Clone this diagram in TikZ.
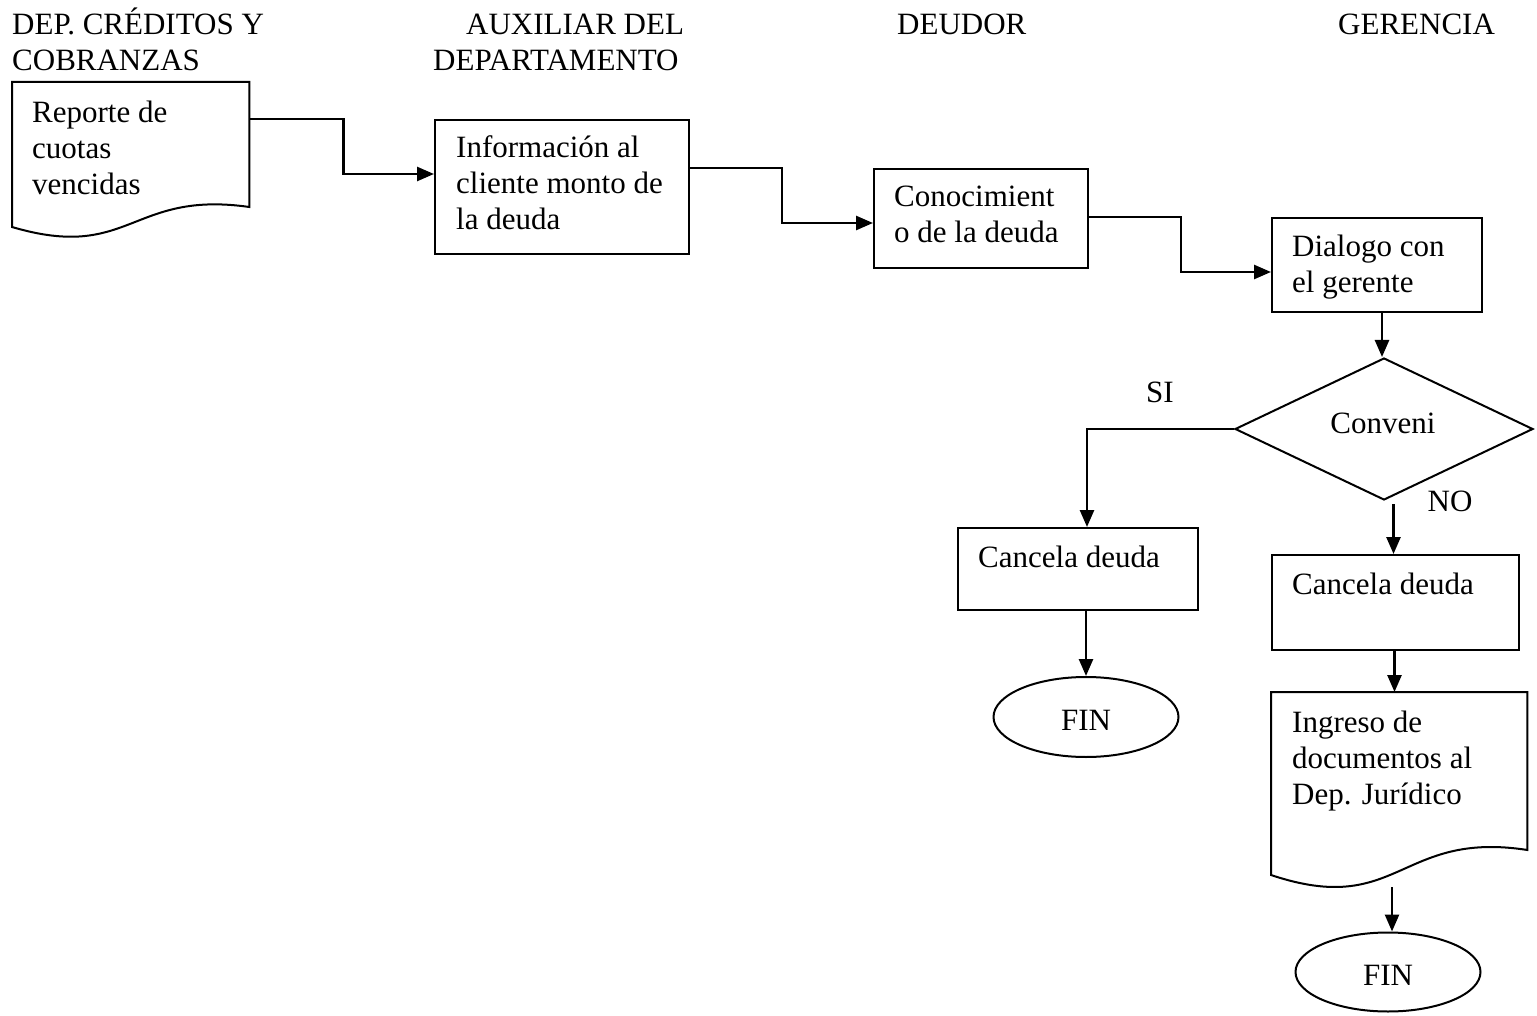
\documentclass[tikz,border=0pt]{standalone}
\usepackage{fontspec}
\setmainfont{Liberation Serif}
\usetikzlibrary{arrows.meta,shapes.geometric,calc}
\newcommand\mylines[1]{\begin{tabular}[t]{@{}l@{}}#1\end{tabular}}
\begin{document}
\begin{tikzpicture}[x=1pt,y=-1pt,
  shapeline/.style={draw=black,line width=2pt},
  conn/.style={draw=black,line width=2.6pt,-{Triangle[length=17pt,width=14pt]}},
  txt/.style={anchor=base west,inner sep=0pt,font=\fontsize{31}{36}\selectfont},
  ctxt/.style={anchor=base,inner sep=0pt,font=\fontsize{31}{36}\selectfont},
  box/.style={shapeline,rectangle,anchor=north west,inner sep=0pt},
  area/.style={rectangle,anchor=north west,inner sep=0pt},
  endnode/.style={shapeline,ellipse,inner sep=0pt},
  decision/.style={shapeline,diamond,inner sep=0pt}]
\useasboundingbox (0,0) rectangle (1537,1016);

% headers
\node[txt] (h1a) at (12,35) {DEP. CRÉDITOS Y};
\node[txt] (h1b) at (12,71) {COBRANZAS};
\node[txt] (h2a) at (466,35) {AUXILIAR DEL};
\node[txt] (h2b) at (433,71) {DEPARTAMENTO};
\node[txt] (h3) at (897,35) {DEUDOR};
\node[txt] (h4) at (1338,35) {GERENCIA};

% document 1
\node[area,minimum width=237pt,minimum height=154pt] (d1) at (12,82) {};
\draw[shapeline] (d1.north west) -- (d1.north east) -- ($(d1.north east)+(0,125)$)
  .. controls ($(d1.north west)+(118.5,108)$) and ($(d1.north west)+(118.5,180)$) ..
  ($(d1.north west)+(0,145)$) -- cycle;
\node[txt] (t1) at (32,123) {\mylines{Reporte de\\cuotas\\vencidas}};

% boxes
\node[box,minimum width=254pt,minimum height=134pt] (b2) at (434,119) {};
\node[txt] (t2) at (456,158) {\mylines{Información al\\cliente monto de\\la deuda}};

\node[box,minimum width=214pt,minimum height=99pt] (b3) at (873,168) {};
\node[txt] (t3) at (894,207) {\mylines{Conocimient\\o de la deuda}};

\node[box,minimum width=210pt,minimum height=94pt] (b4) at (1271,217) {};
\node[txt] (t4) at (1292,257) {\mylines{Dialogo con\\el gerente}};

\node[decision,minimum width=298pt,minimum height=142pt] (dia) at (1384,429) {};
\node[ctxt] (t5) at (1383,433) {Conveni};
\node[ctxt] (si) at (1160,402) {SI};
\node[ctxt] (no) at (1450,511) {NO};

\node[box,minimum width=240pt,minimum height=82pt] (b5) at (957,527) {};
\node[txt] (t6) at (978,567) {Cancela deuda};

\node[box,minimum width=247pt,minimum height=95pt] (b6) at (1271,554) {};
\node[txt] (t7) at (1292,594) {Cancela deuda};

\node[endnode,minimum width=185pt,minimum height=80pt] (fin1) at (1086,717) {};
\node[ctxt] (t8) at (1086,730) {FIN};

% document 2
\node[area,minimum width=256pt,minimum height=195pt] (d2) at (1271,692) {};
\draw[shapeline] (d2.north west) -- (d2.north east) -- ($(d2.north east)+(0,158)$)
  .. controls ($(d2.north west)+(128,138)$) and ($(d2.north west)+(128,226)$) ..
  ($(d2.north west)+(0,183)$) -- cycle;
\node[txt] (t9) at (1292,732) {\mylines{Ingreso de\\documentos al\\Dep. Jurídico}};

\node[endnode,minimum width=185pt,minimum height=79pt] (fin2) at (1388,972) {};
\node[ctxt] (t10) at (1388,985) {FIN};

% connectors
\draw[conn] ($(d1.north east)+(0,37)$) -- ++(94,0) |- ($(b2.north west)+(0,55)$);
\draw[conn] ($(b2.north east)+(0,49)$) -- ++(92,0) |- ($(b3.north west)+(0,55)$);
\draw[conn] ($(b3.north east)+(0,49)$) -- ++(92,0) |- ($(b4.north west)+(0,55)$);
\draw[conn] ($(dia.north |- b4.south)+(-2,0)$) -- ($(dia.north)+(-2,0)$);
\draw[conn] (dia.west) -| ($(b5.north)+(9,0)$);
\draw[conn] ($(dia.south -| b6.north)+(-2,3)$) -- ($(b6.north)+(-2,0)$);
\draw[conn] (fin1.north |- b5.south) -- (fin1.north);
\draw[conn] ($(b6.south)+(-1,0)$) -- ($(b6.south |- d2.north)+(-1,0)$);
\draw[conn] ($(d2.south -| fin2.north)+(4,0)$) -- ($(fin2.north)+(4,0)$);
\end{tikzpicture}
\end{document}
